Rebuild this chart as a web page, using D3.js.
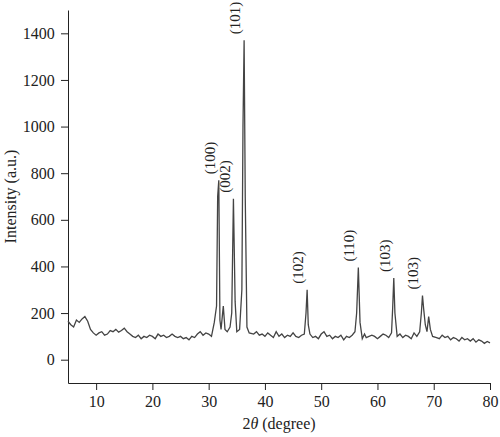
<!DOCTYPE html>
<html><head><meta charset="utf-8">
<script src="https://cdn.jsdelivr.net/npm/d3@7"></script>
<style>body{margin:0;background:#fff}text{font-family:"Liberation Serif","DejaVu Serif",serif}</style>
</head><body><div id="chart"></div>
<script>
const theta = [
  5,5.5,6,6.5,7,7.5,8,8.5,9,9.5,
  10,10.5,11,11.5,12,12.5,13,13.5,14,14.5,
  15,15.5,16,16.5,17,17.5,18,18.5,19,19.5,
  20,20.5,21,21.5,22,22.5,23,23.5,24,24.5,
  25,25.5,26,26.5,27,27.5,28,28.5,29,29.5,
  30,30.5,31,31.4,31.6,31.8,32,32.2,32.6,32.9,
  33.3,33.8,34.1,34.4,34.7,35,35.5,35.9,36.1,36.3,
  36.5,36.8,37.2,38,38.5,39,39.5,40,40.5,41,
  41.5,42,42.5,43,43.5,44,44.5,45,45.5,46,
  46.5,47,47.3,47.5,47.7,48,48.5,49,49.5,50,
  50.5,51,51.5,52,52.5,53,53.5,54,54.5,55,
  55.5,56,56.3,56.6,56.9,57.3,57.7,58,58.5,59,
  59.5,60,60.5,61,61.5,62,62.5,62.7,62.9,63.1,
  63.5,64,64.5,65,65.5,66,66.5,67,67.5,67.8,
  68,68.2,68.5,68.8,69.1,69.4,69.8,70.5,71,71.5,
  72,72.5,73,73.5,74,74.5,75,75.5,76,76.5,
  77,77.5,78,78.5,79,79.5,80];
const intensity = [
  165,150,140,170,160,175,185,165,130,115,
  105,115,120,105,110,125,120,130,118,125,
  135,120,110,100,95,105,90,100,95,105,
  100,90,110,100,105,95,100,110,100,95,
  100,90,95,85,100,95,110,120,105,115,
  110,100,160,230,700,770,170,130,230,130,
  120,140,200,690,250,120,130,300,1000,1370,
  700,140,115,110,120,105,110,100,115,105,
  95,120,100,110,95,105,100,115,100,95,
  105,110,200,300,150,110,95,100,90,110,
  120,100,105,90,100,95,105,85,100,95,
  105,120,200,395,160,90,110,95,100,105,
  100,90,100,110,105,95,115,220,350,200,
  100,110,95,105,100,90,115,100,120,200,
  275,220,150,120,185,130,100,95,90,105,
  95,100,85,95,90,80,95,85,90,80,
  90,75,85,80,70,78,72];
const xTicks = [10,20,30,40,50,60,70,80];
const yTicks = [0,200,400,600,800,1000,1200,1400];
const peakLabels = ["(100)","(002)","(101)","(102)","(110)","(103)","(103)"];
const peakTheta = [31.8,34.5,36.3,47.5,56.6,62.9,68.0];
const peakTop = [770,690,1370,300,395,350,275];

const W = 500, H = 437;
const m = {left: 68, right: 10, top: 10, bottom: 54};
const svg = d3.select('#chart').append('svg').attr('width', W).attr('height', H);

const x = d3.scaleLinear().domain([5, 80]).range([m.left, W - m.right]);
const y = d3.scaleLinear().domain([-100, 1500]).range([H - m.bottom, m.top]);

// Axes with minor ticks
const xAxis = svg.append('g').attr('transform', `translate(0,${H - m.bottom})`);
xAxis.call(d3.axisBottom(x).tickValues(d3.range(5, 81, 5)).tickSize(4).tickFormat(''));
xAxis.call(d3.axisBottom(x).tickValues(xTicks).tickSize(7).tickSizeOuter(0))
  .selectAll('text').attr('font-size', 16).attr('fill', '#222').attr('dy', '0.9em');
const yAxis = svg.append('g').attr('transform', `translate(${m.left},0)`);
yAxis.call(d3.axisLeft(y).tickValues(d3.range(-100, 1501, 100)).tickSize(4).tickFormat(''));
yAxis.call(d3.axisLeft(y).tickValues(yTicks).tickSize(7).tickSizeOuter(0).tickFormat(d3.format('d')))
  .selectAll('text').attr('font-size', 16).attr('fill', '#222').attr('dx', '-0.2em');
svg.selectAll('.domain').attr('stroke', '#222');
svg.selectAll('.tick line').attr('stroke', '#222');

// Pattern line
const pts = theta.map((t, i) => [t, intensity[i]]);
svg.append('path').datum(pts)
  .attr('fill', 'none').attr('stroke', '#444').attr('stroke-width', 1.3)
  .attr('d', d3.line().x(d => x(d[0])).y(d => y(d[1])));

// Peak labels, rotated
peakLabels.forEach((lab, i) => {
  const px = x(peakTheta[i]) - 4, py = y(peakTop[i]) - 6;
  svg.append('text').attr('transform', `translate(${px},${py}) rotate(-90)`)
    .attr('font-size', 15).attr('fill', '#222').text(lab);
});

// Axis titles
svg.append('text').attr('x', (m.left + W - m.right) / 2).attr('y', H - 8)
  .attr('text-anchor', 'middle').attr('font-size', 16).attr('fill', '#222')
  .html('2<tspan font-style="italic">θ</tspan> (degree)');
svg.append('text').attr('transform', `translate(16,${y(700)}) rotate(-90)`)
  .attr('text-anchor', 'middle').attr('font-size', 16).attr('fill', '#222').text('Intensity (a.u.)');
</script></body></html>
